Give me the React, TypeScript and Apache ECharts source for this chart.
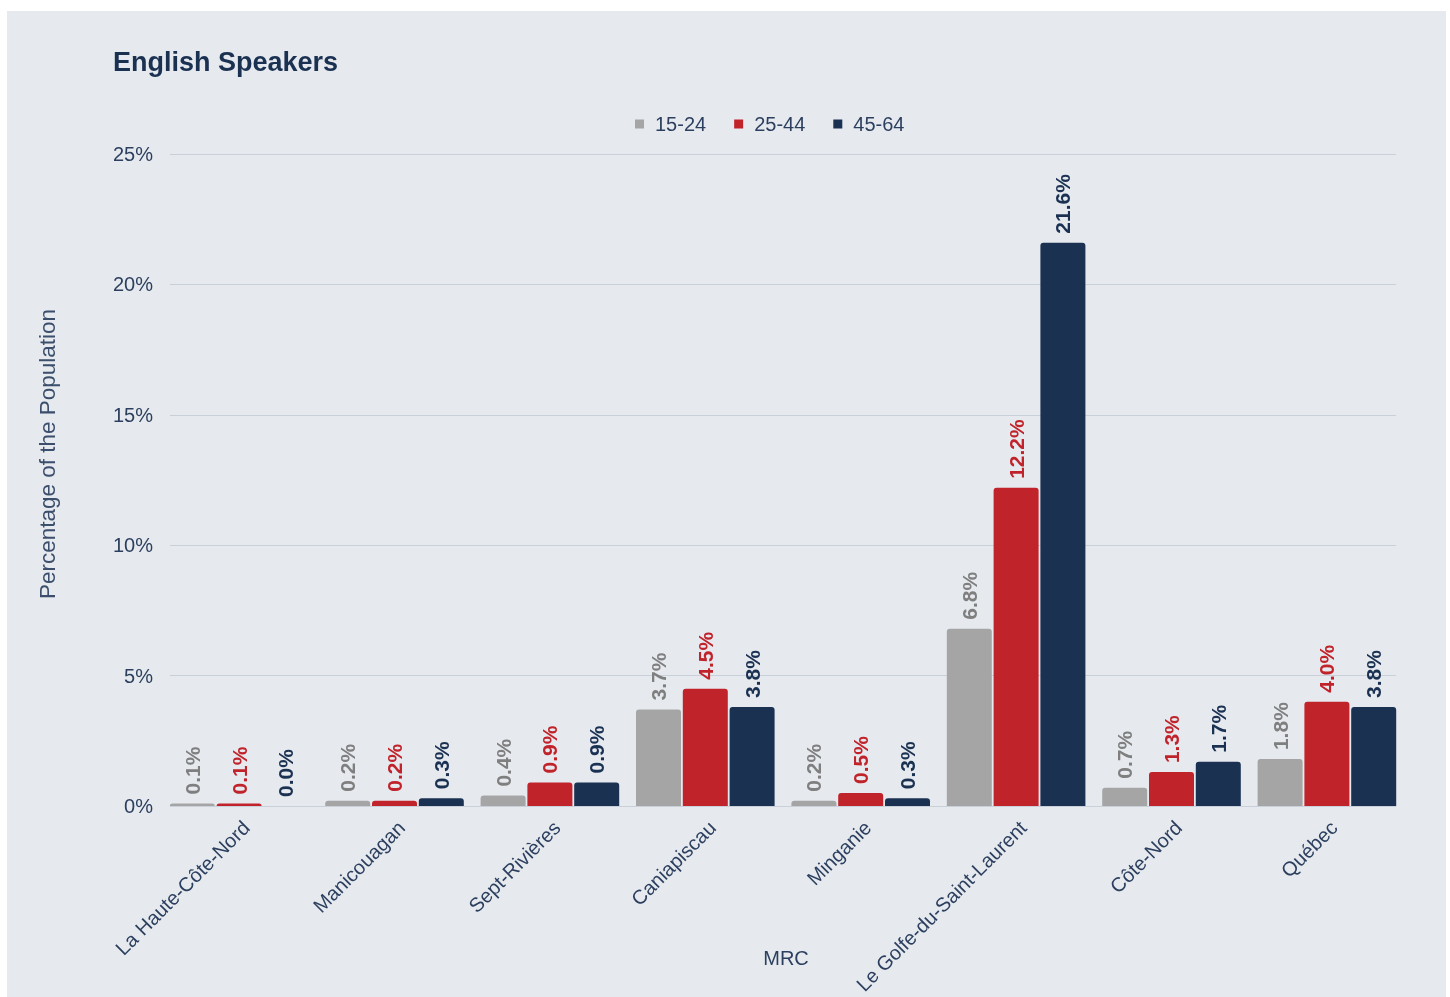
import React, { useEffect, useRef } from 'react';
import * as echarts from 'echarts';

const categories = [
  'La Haute-Côte-Nord',
  'Manicouagan',
  'Sept-Rivières',
  'Caniapiscau',
  'Minganie',
  'Le Golfe-du-Saint-Laurent',
  'Côte-Nord',
  'Québec',
];
const seriesNames = ['15-24', '25-44', '45-64'];
const age15to24 = [0.1, 0.2, 0.4, 3.7, 0.2, 6.8, 0.7, 1.8];
const age25to44 = [0.1, 0.2, 0.9, 4.5, 0.5, 12.2, 1.3, 4.0];
const age45to64 = [0.0, 0.3, 0.9, 3.8, 0.3, 21.6, 1.7, 3.8];
const yMin = 0;
const yMax = 25;
const yStep = 5;

const FONT = '"Liberation Sans", Arial, Helvetica, sans-serif';
const NAVY = '#1b3152';
const TEXT = '#2c3f5e';

export default function App() {
  const ref = useRef<HTMLDivElement>(null);

  useEffect(() => {
    if (!ref.current) return;
    const chart = echarts.init(ref.current, undefined, { renderer: 'svg' });

    const defs = [
      { name: seriesNames[0], data: age15to24, color: '#a5a5a5', labelColor: '#7f7f7f' },
      { name: seriesNames[1], data: age25to44, color: '#c1232b', labelColor: '#c1232b' },
      { name: seriesNames[2], data: age45to64, color: NAVY, labelColor: NAVY },
    ];

    const option: any = {
      animation: false,
      textStyle: { fontFamily: FONT },
      color: defs.map((d) => d.color),
      graphic: [
        {
          type: 'rect',
          shape: { x: 7, y: 11, width: 1439, height: 990 },
          style: { fill: '#e6eaef' },
          z: -10,
          silent: true,
        },
        {
          type: 'text',
          x: 47,
          y: 454,
          rotation: Math.PI / 2,
          style: {
            text: 'Percentage of the Population',
            fill: '#3b4e6c',
            font: `22.5px ${FONT}`,
            textAlign: 'center',
            textVerticalAlign: 'middle',
          },
        },
      ],
      title: {
        text: 'English Speakers',
        left: 113,
        top: 48,
        padding: 0,
        textStyle: { fontSize: 27, fontWeight: 'bold', color: NAVY, fontFamily: FONT },
      },
      legend: {
        left: 635,
        top: 114,
        padding: 0,
        itemWidth: 9,
        itemHeight: 9,
        itemGap: 28,
        icon: 'rect',
        data: seriesNames,
        textStyle: { fontSize: 20, color: TEXT, fontFamily: FONT, padding: [0, 0, 0, 6] },
      },
      grid: [
        { left: 161.4, right: 45.4, top: 154, bottom: 191 },
        { left: 170, right: 54, top: 154, bottom: 191 },
        { left: 168.4, right: 38.4, top: 154, bottom: 191 },
      ],
      xAxis: [
        {
          type: 'category',
          gridIndex: 0,
          data: categories,
          axisLine: { show: false },
          axisTick: { show: false },
          axisLabel: { show: false },
          name: 'MRC',
          nameLocation: 'middle',
          nameGap: 142,
          nameTextStyle: { fontSize: 20, color: TEXT, fontFamily: FONT, padding: [0, 0, 0, 6] },
        },
        { type: 'value', gridIndex: 1, show: false, min: 0, max: 1 },
        {
          type: 'category',
          gridIndex: 2,
          data: categories,
          axisLine: { show: false },
          axisTick: { show: false },
          splitLine: { show: false },
          axisLabel: { rotate: 45, fontSize: 20, color: TEXT, margin: 37, interval: 0, fontFamily: FONT },
        },
      ],
      yAxis: [
        { type: 'value', gridIndex: 0, min: yMin, max: yMax, interval: yStep, show: false },
        {
          type: 'value',
          gridIndex: 1,
          min: yMin,
          max: yMax,
          interval: yStep,
          axisLine: { show: false },
          axisTick: { show: false },
          axisLabel: { formatter: '{value}%', fontSize: 20, color: TEXT, margin: 17, fontFamily: FONT },
          splitLine: { lineStyle: { color: '#c9d0d9', width: 1 } },
        },
        { type: 'value', gridIndex: 2, min: yMin, max: yMax, show: false },
      ],
      series: defs.map((d) => ({
        type: 'bar',
        name: d.name,
        xAxisIndex: 0,
        yAxisIndex: 0,
        data: d.data,
        barWidth: 45,
        barGap: '4%',
        itemStyle: { color: d.color, borderRadius: [3, 3, 0, 0] },
        label: {
          show: true,
          position: 'top',
          rotate: 90,
          align: 'left',
          verticalAlign: 'middle',
          distance: 9,
          fontSize: 21,
          fontWeight: 'bold',
          fontFamily: FONT,
          color: d.labelColor,
          formatter: (p: any) => Number(p.value).toFixed(1) + '%',
        },
      })),
    };

    chart.setOption(option);
    return () => chart.dispose();
  }, []);

  return (
    <div
      ref={ref}
      style={{ position: 'fixed', left: 0, top: 0, width: 1450, height: 997 }}
    />
  );
}
